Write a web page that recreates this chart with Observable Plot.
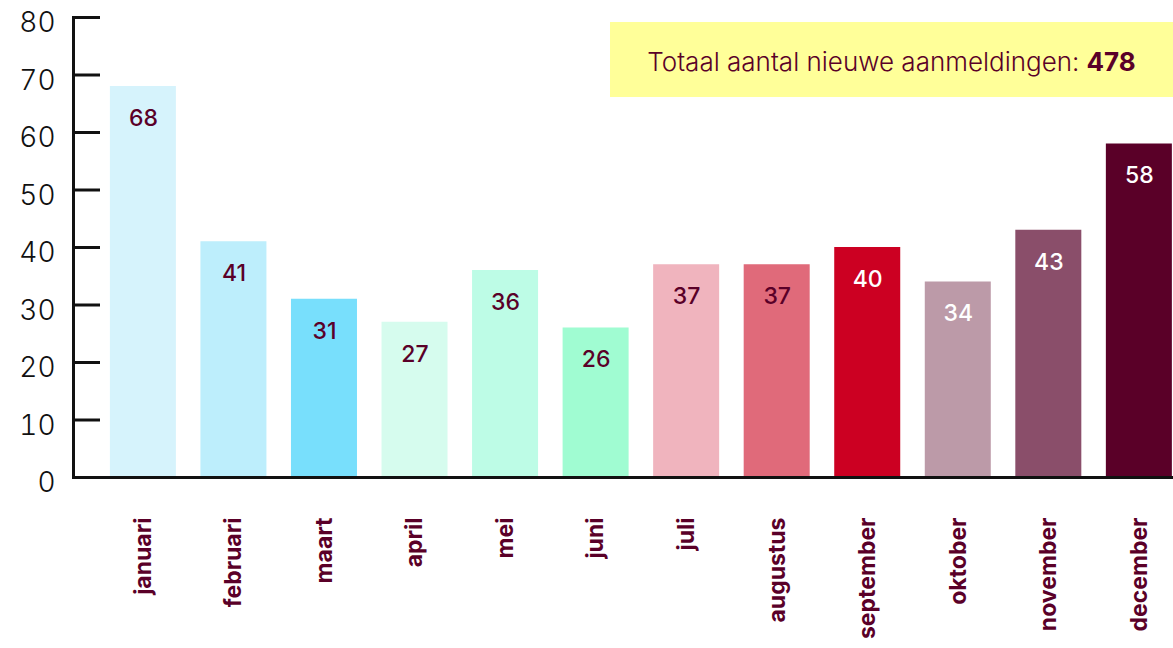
<!DOCTYPE html>
<html>
<head>
<meta charset="utf-8">
<script src="https://cdn.jsdelivr.net/npm/d3@7"></script>
<script src="https://cdn.jsdelivr.net/npm/@observablehq/plot@0.6"></script>
<style>
  html, body { margin: 0; padding: 0; background: #fff; }
  #wrap { position: relative; width: 1173px; height: 648px; font-family: Inter, "Noto Sans", sans-serif; }
  #legend { position: absolute; left: 610px; top: 22px; width: 563px; height: 75px; background: #ffff99;
    display: flex; align-items: center; justify-content: center; color: #5a0028; font-size: 26px; font-weight: 300; padding-top: 4px; box-sizing: border-box; }
  #legend b { font-weight: 700; margin-left: 7px; }
</style>
</head>
<body>
<div id="wrap"><div id="legend"></div></div>
<script>
const months = ["januari","februari","maart","april","mei","juni","juli","augustus","september","oktober","november","december"];
const values = [68, 41, 31, 27, 36, 26, 37, 37, 40, 34, 43, 58];
const colors = ["#d6f3fc","#bdeefc","#78dffc","#d6fcee","#bdfce6","#a0fcd2","#f0b4be","#e06a7a","#cc0022","#bc9aa8","#8a4e6a","#5a0028"];
const labelColors = ["#5a0028","#5a0028","#5a0028","#5a0028","#5a0028","#5a0028","#5a0028","#5a0028","#ffffff","#ffffff","#ffffff","#ffffff"];
const yTicks = [0, 10, 20, 30, 40, 50, 60, 70, 80];
const legendLabel = "Totaal aantal nieuwe aanmeldingen:";

const data = months.map((m, i) => ({month: m, value: values[i], color: colors[i], labelColor: labelColors[i]}));
const total = d3.sum(values);

const chart = Plot.plot({
  width: 1173,
  height: 648,
  marginLeft: 73,
  marginRight: 0,
  marginTop: 17,
  marginBottom: 171,
  style: {fontFamily: "Inter, 'Noto Sans', sans-serif", background: "#fff"},
  x: {domain: months, paddingInner: 0.271, paddingOuter: 0.21, align: 0.97, round: false, label: null},
  y: {domain: [0, 80], label: null},
  marks: [
    Plot.barY(data, {x: "month", y: "value", fill: d => d.color}),
    Plot.text(data, {x: "month", y: "value", text: d => String(d.value), dy: 32, fill: d => d.labelColor, fontSize: 23, fontWeight: 500}),
    Plot.axisY({ticks: yTicks, tickSize: 0, tickPadding: 18, dy: 6, fontSize: 28, fontWeight: 300, fill: "#111", tickFormat: d => String(d)}),
    Plot.axisY({ticks: yTicks, tickSize: -27, fill: "none", stroke: "#111", strokeWidth: 3, strokeOpacity: 1}),
    Plot.axisX({tickSize: 0, tickPadding: 40, tickRotate: -90, fontSize: 23, fontWeight: 700, fill: "#5a0028", label: null}),
    Plot.frame({anchor: "left", stroke: "#111", strokeWidth: 3}),
    Plot.ruleY([0], {stroke: "#111", strokeWidth: 3})
  ]
});
document.getElementById("wrap").appendChild(chart);
const lg = document.getElementById("legend");
lg.append(legendLabel);
const b = document.createElement("b");
b.textContent = String(total);
lg.appendChild(b);
</script>
</body>
</html>
